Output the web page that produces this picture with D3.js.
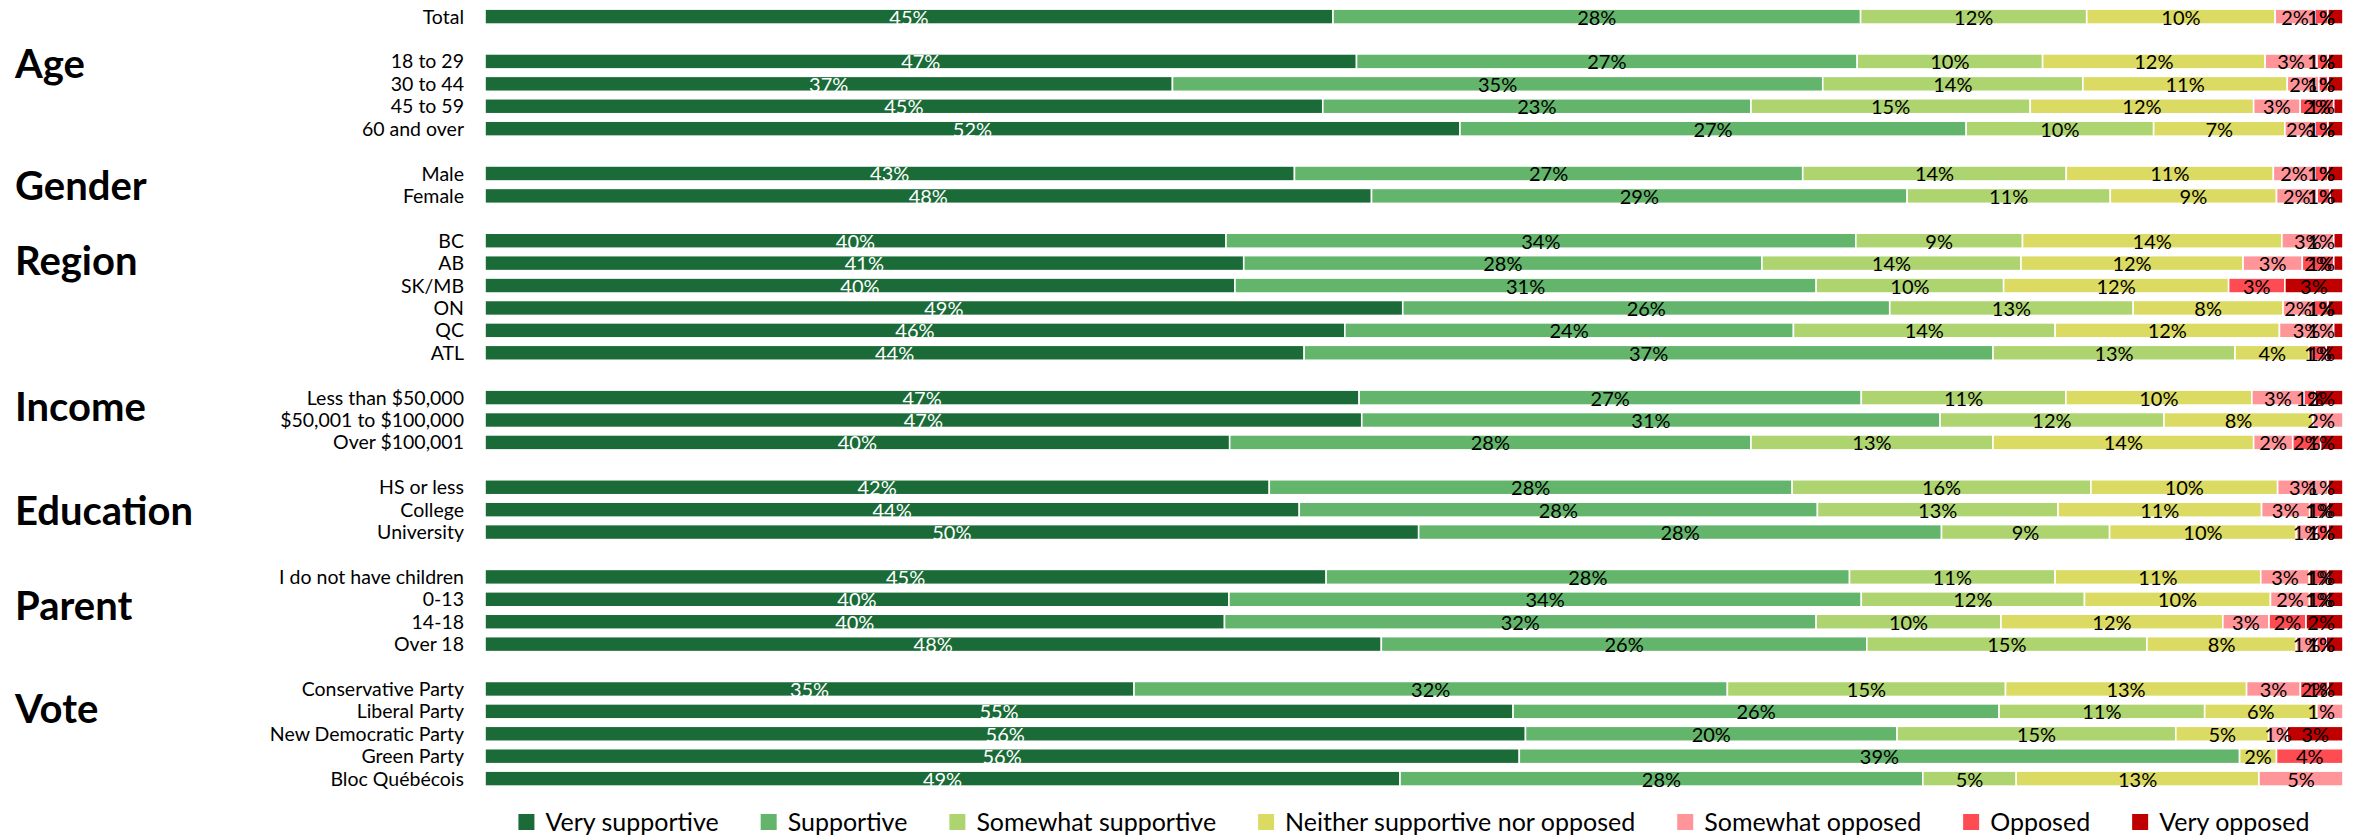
<!DOCTYPE html>
<html lang="en">
<head>
  <meta charset="UTF-8">
  <title>Support by demographic</title>
  <script src="https://d3js.org/d3.v7.min.js"></script>
  <style>
    body { margin: 0; background: #fff; overflow: hidden; }
    svg { display: block; }
    text { font-family: Lato, "Open Sans", sans-serif; fill: #000; }
    .group-title { font-weight: bold; font-size: 40px; }
    .row-label { font-size: 19.5px; }
    .seg-label { font-size: 20px; pointer-events: none; }
    .legend text { font-size: 25px; }
  </style>
</head>
<body>
<svg></svg>
<script>
const categories = ["Very supportive", "Supportive", "Somewhat supportive",
  "Neither supportive nor opposed", "Somewhat opposed", "Opposed", "Very opposed"];
const colors = ["#1a6b37", "#63b56b", "#aed470", "#dbda63", "#ff9499", "#ff4b52", "#c00000"];

const groups = ["", "Age", "Gender", "Region", "Income", "Education", "Parent", "Vote"];
// where the group title sits, in rows from the first row of the group
const titleOffset = [0, 0.1, 0.55, 0.87, 0.4, 1.05, 1.28, 0.87];

const rowLabels = ["Total",
  "18 to 29", "30 to 44", "45 to 59", "60 and over",
  "Male", "Female",
  "BC", "AB", "SK/MB", "ON", "QC", "ATL",
  "Less than $50,000", "$50,001 to $100,000", "Over $100,001 ",
  "HS or less", "College", "University",
  "I do not have children", "0-13", "14-18", "Over 18",
  "Conservative Party", "Liberal Party", "New Democratic Party", "Green Party", "Bloc Québécois"];
const rowGroup = [0, 1, 1, 1, 1, 2, 2, 3, 3, 3, 3, 3, 3, 4, 4, 4, 5, 5, 5, 6, 6, 6, 6, 7, 7, 7, 7, 7];

const verySupportive     = [45, 47, 37, 45, 52, 43, 48, 40, 41, 40, 49, 46, 44, 47, 47, 40, 42, 44, 50, 45, 40, 40, 48, 35, 55, 56, 56, 49];
const supportive         = [28, 27, 35, 23, 27, 27, 29, 34, 28, 31, 26, 24, 37, 27, 31, 28, 28, 28, 28, 28, 34, 32, 26, 32, 26, 20, 39, 28];
const somewhatSupportive = [12, 10, 14, 15, 10, 14, 11, 9, 14, 10, 13, 14, 13, 11, 12, 13, 16, 13, 9, 11, 12, 10, 15, 15, 11, 15, 0, 5];
const neither            = [10, 12, 11, 12, 7, 11, 9, 14, 12, 12, 8, 12, 4, 10, 8, 14, 10, 11, 10, 11, 10, 12, 8, 13, 6, 5, 2, 13];
const somewhatOpposed    = [2.1, 2.8, 1.7, 2.5, 1.6, 2.2, 2.2, 2.8, 3.2, 0, 1.6, 2.9, 0, 2.8, 1.6, 2.1, 2.7, 2.6, 1.1, 2.6, 2.1, 2.5, 1.1, 2.9, 1.4, 1.0, 0, 4.5];
const opposed            = [0.7, 0.6, 0.5, 1.8, 0.7, 0.7, 0.7, 0, 1.7, 3.0, 0.8, 0, 0.9, 0.6, 0, 1.5, 0, 1.0, 0.6, 1.0, 1.0, 2.0, 0.5, 1.5, 0, 0, 3.6, 0];
const veryOpposed        = [0.8, 0.8, 0.8, 0.5, 0.8, 0.8, 0.7, 0.5, 0.5, 3.1, 0.8, 0.5, 0.9, 1.5, 0, 1.2, 0.8, 0.8, 0.8, 0.8, 0.8, 2.0, 0.9, 0.8, 0, 3.0, 0, 0];

const series = [verySupportive, supportive, somewhatSupportive, neither, somewhatOpposed, opposed, veryOpposed];

const width = 2361, height = 839;
const svg = d3.select("svg").attr("width", width).attr("height", height);

// rows table for d3.stack
const table = rowLabels.map((label, i) => {
  const r = { label, i };
  categories.forEach((c, k) => { r[c] = series[k][i]; });
  return r;
});

// slots: each group followed by an empty slot
const slots = [];
rowLabels.forEach((l, i) => {
  if (i > 0 && rowGroup[i] !== rowGroup[i - 1]) slots.push("gap" + i);
  slots.push("row" + i);
});

const y = d3.scalePoint().domain(slots).range([16.6, 778.6]);
const x = d3.scaleLinear().domain([0, 1]).range([485, 2343]);
const barH = 15;

const stacked = d3.stack().keys(categories).offset(d3.stackOffsetExpand)(table);

const layer = svg.append("g").selectAll("g")
  .data(stacked)
  .enter().append("g")
  .attr("fill", (d, k) => colors[k]);

layer.selectAll("rect")
  .data(d => d.filter(p => p[1] - p[0] > 0))
  .enter().append("rect")
  .attr("x", p => x(p[0]))
  .attr("y", p => y("row" + p.data.i) - barH / 2)
  .attr("width", p => x(p[1]) - x(p[0]))
  .attr("height", barH)
  .attr("stroke", "#fff")
  .attr("stroke-width", 1.6);

// segment labels, kept inside the right end of the bar
const labels = svg.append("g");
stacked.forEach((s, k) => {
  s.forEach(p => {
    const v = p.data[s.key];
    if (!(v > 0)) return;
    const t = labels.append("text")
      .attr("class", "seg-label")
      .attr("text-anchor", "middle")
      .attr("y", y("row" + p.data.i))
      .attr("dy", "0.4em")
      .style("fill", k === 0 ? "#fff" : "#000")
      .text(Math.round(v) + "%");
    const w = t.node().getComputedTextLength();
    const cx = Math.min((x(p[0]) + x(p[1])) / 2, x.range()[1] - 8 - w / 2);
    t.attr("x", cx);
  });
});

// row labels
svg.append("g").selectAll("text")
  .data(rowLabels)
  .enter().append("text")
  .attr("class", "row-label")
  .attr("x", 464)
  .attr("y", (d, i) => y("row" + i))
  .attr("dy", "0.36em")
  .attr("text-anchor", "end")
  .text(d => d);

// group titles
const step = y.step();
svg.append("g").selectAll("text")
  .data(groups.map((g, gi) => ({ g, gi })).filter(d => d.g))
  .enter().append("text")
  .attr("class", "group-title")
  .attr("x", 15)
  .attr("y", d => y("row" + rowGroup.indexOf(d.gi)) + titleOffset[d.gi] * step)
  .attr("dy", "0.36em")
  .text(d => d.g);

// legend, centred under the bars
const legend = svg.append("g").attr("class", "legend");
const sq = 16, sqGap = 11, itemGap = 42, legendY = 822;
const items = legend.selectAll("g")
  .data(categories)
  .enter().append("g");
items.append("rect")
  .attr("width", sq).attr("height", sq)
  .attr("y", legendY - sq / 2)
  .attr("fill", (d, k) => colors[k]);
items.append("text")
  .attr("x", sq + sqGap)
  .attr("y", legendY)
  .attr("dy", "0.36em")
  .text(d => d);
const widths = [];
items.each(function () {
  const w = sq + sqGap + d3.select(this).select("text").node().getComputedTextLength();
  widths.push(w);
});
const total = d3.sum(widths) + itemGap * (widths.length - 1);
let lx = (x.range()[0] + x.range()[1]) / 2 - total / 2;
items.attr("transform", (d, k) => {
  const t = `translate(${lx},0)`;
  lx += widths[k] + itemGap;
  return t;
});
</script>
</body>
</html>
